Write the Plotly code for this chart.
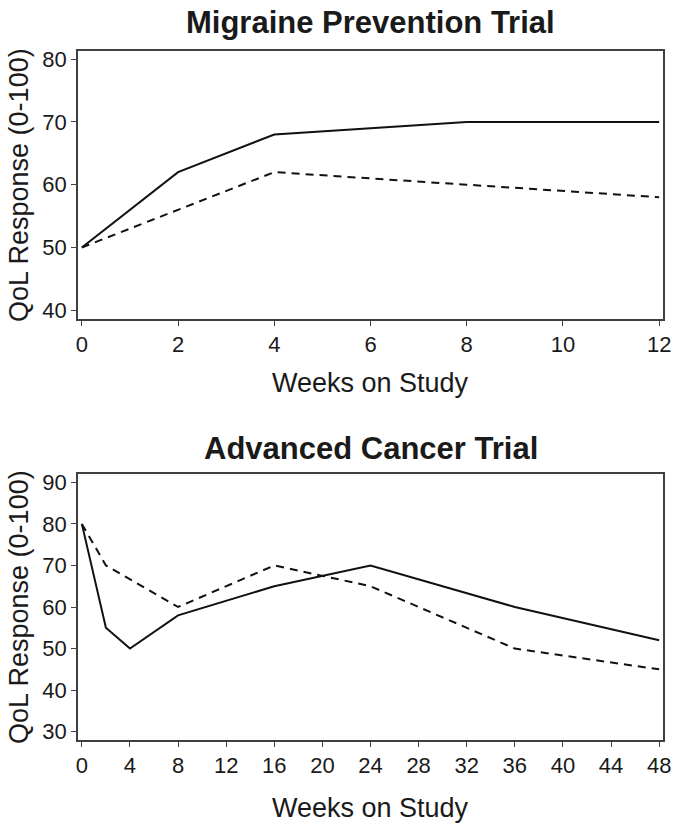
import plotly.graph_objects as go

# Migraine prevention trial: QoL by week
mig_weeks = [0, 2, 4, 8, 12]
mig_active = [50, 62, 68, 70, 70]
mig_control = [50, 56, 62, 60, 58]

# Advanced cancer trial: QoL by week
can_weeks = [0, 2, 4, 8, 16, 24, 36, 48]
can_active = [80, 55, 50, 58, 65, 70, 60, 52]
can_control_weeks = [0, 2, 8, 16, 24, 36, 48]
can_control = [80, 70, 60, 70, 65, 50, 45]

mig_ticks = [0, 2, 4, 6, 8, 10, 12]
can_ticks = list(range(0, 49, 4))
mig_yticks = [40, 50, 60, 70, 80]
can_yticks = [30, 40, 50, 60, 70, 80, 90]

FONT = "Liberation Sans, Arial, Helvetica"
INK = "#1a1a1a"
FRAME = "#404040"

fig = go.Figure()

solid = dict(color="#111111", width=2)
dashed = dict(color="#111111", width=2, dash="8px,6px")

fig.add_trace(go.Scatter(x=mig_weeks, y=mig_active, mode="lines", line=solid,
                         xaxis="x", yaxis="y", showlegend=False))
fig.add_trace(go.Scatter(x=mig_weeks, y=mig_control, mode="lines", line=dashed,
                         xaxis="x", yaxis="y", showlegend=False))
fig.add_trace(go.Scatter(x=can_weeks, y=can_active, mode="lines", line=solid,
                         xaxis="x2", yaxis="y2", showlegend=False))
fig.add_trace(go.Scatter(x=can_control_weeks, y=can_control, mode="lines", line=dashed,
                         xaxis="x2", yaxis="y2", showlegend=False))

axis_common = dict(
    showgrid=False, zeroline=False, showline=True, mirror=True,
    linecolor=FRAME, linewidth=1.5, ticks="outside", ticklen=5,
    tickcolor=FRAME, tickwidth=1.2,
    tickfont=dict(family=FONT, size=22, color=INK),
)

H = 828
top_px, bot_px = 51.0, 740.0
span = bot_px - top_px


def frac(py):
    return (bot_px - py) / span


fig.update_layout(
    width=681, height=828,
    margin=dict(l=78, r=10, t=top_px, b=H - bot_px),
    paper_bgcolor="white", plot_bgcolor="white",
    xaxis=dict(domain=[0, 1], anchor="y", range=[-0.08, 12.08],
               tickvals=mig_ticks, **axis_common),
    yaxis=dict(domain=[frac(319), 1], anchor="x", range=[38.6, 81.3],
               tickvals=mig_yticks, **axis_common),
    xaxis2=dict(domain=[0, 1], anchor="y2", range=[-0.32, 48.32],
                tickvals=can_ticks, **axis_common),
    yaxis2=dict(domain=[0, frac(474)], anchor="x2", range=[28.0, 92.0],
                tickvals=can_yticks, **axis_common),
)

title_font = dict(family=FONT, size=31, color=INK, weight="bold")
label_font = dict(family=FONT, size=27, color=INK)

annots = [
    dict(text="<b>Migraine Prevention Trial</b>", xref="x domain", yref="y domain",
         x=0.5, y=1, yanchor="middle", yshift=51 - 22, font=title_font),
    dict(text="<b>Advanced Cancer Trial</b>", xref="x2 domain", yref="y2 domain",
         x=0.5, y=1, yanchor="middle", yshift=474 - 448, font=title_font),
    dict(text="Weeks on Study", xref="x domain", yref="y domain",
         x=0.5, y=0, yanchor="middle", yshift=-(383 - 319), font=label_font),
    dict(text="Weeks on Study", xref="x2 domain", yref="y2 domain",
         x=0.5, y=0, yanchor="middle", yshift=-(808 - 740), font=label_font),
    dict(text="QoL Response (0-100)", xref="x domain", yref="y domain",
         x=0, y=0.5, xanchor="center", xshift=19 - 78, textangle=-90, font=label_font),
    dict(text="QoL Response (0-100)", xref="x2 domain", yref="y2 domain",
         x=0, y=0.5, xanchor="center", xshift=19 - 78, textangle=-90, font=label_font),
]
for a in annots:
    a["showarrow"] = False
fig.update_layout(annotations=annots)

fig.write_html("out.html")
